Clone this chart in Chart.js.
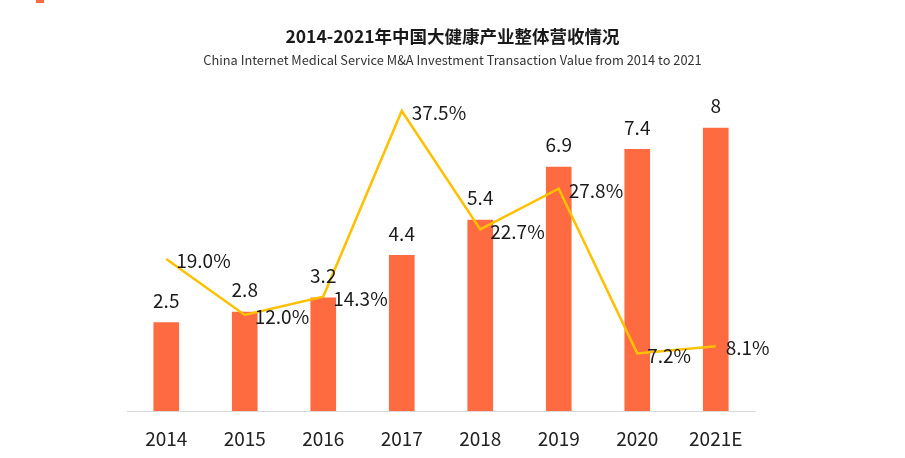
<!DOCTYPE html>
<html>
<head>
<meta charset="utf-8">
<script src="https://cdn.jsdelivr.net/npm/chart.js@4"></script>
<style>
  html, body { margin: 0; padding: 0; background: #fff; }
  #wrap { position: relative; width: 905px; height: 458px; }
  #mark { position: absolute; left: 36px; top: 0; width: 8px; height: 3px; background: #FF6B40; }
  canvas { display: block; }
</style>
</head>
<body>
<div id="wrap">
  <canvas id="c" width="905" height="458"></canvas>
  <div id="mark"></div>
</div>
<script>
const categories = ['2014', '2015', '2016', '2017', '2018', '2019', '2020', '2021E'];
const revenue = [2.5, 2.8, 3.2, 4.4, 5.4, 6.9, 7.4, 8];
const growth = [19.0, 12.0, 14.3, 37.5, 22.7, 27.8, 7.2, 8.1];
const titleText = '2014-2021年中国大健康产业整体营收情况';
const subtitleText = 'China Internet Medical Service M&A Investment Transaction Value from 2014 to 2021';

const FONT = "'Noto Sans CJK SC', 'Noto Sans', sans-serif";

const titlePlugin = {
  id: 'titles',
  afterDraw(chart) {
    const ctx = chart.ctx;
    const cx = chart.width / 2;
    ctx.save();
    ctx.textAlign = 'center';
    ctx.textBaseline = 'middle';
    ctx.fillStyle = '#1a1a1a';
    ctx.font = 'bold 17.5px ' + FONT;
    ctx.fillText(titleText, cx, 36);
    ctx.fillStyle = '#333';
    ctx.font = '12.8px ' + FONT;
    ctx.fillText(subtitleText, cx, 60);
    ctx.restore();
  }
};

const labelPlugin = {
  id: 'valueLabels',
  afterDatasetsDraw(chart) {
    const ctx = chart.ctx;
    ctx.save();
    ctx.font = '19px ' + FONT;
    ctx.fillStyle = '#1a1a1a';
    ctx.textBaseline = 'middle';
    const barMeta = chart.getDatasetMeta(1);
    ctx.textAlign = 'center';
    barMeta.data.forEach((el, i) => {
      ctx.fillText(String(revenue[i]), el.x, el.y - 22);
    });
    const lineMeta = chart.getDatasetMeta(0);
    ctx.textAlign = 'left';
    lineMeta.data.forEach((el, i) => {
      ctx.fillText(growth[i].toFixed(1) + '%', el.x + 10, el.y + 2);
    });
    ctx.restore();
  }
};

new Chart(document.getElementById('c'), {
  type: 'bar',
  data: {
    labels: categories,
    datasets: [
      {
        type: 'line',
        data: growth,
        yAxisID: 'y1',
        borderColor: '#FFC000',
        borderWidth: 2.5,
        pointRadius: 0,
        tension: 0,
        fill: false,
        order: 0
      },
      {
        type: 'bar',
        data: revenue,
        yAxisID: 'y',
        backgroundColor: '#FF6B40',
        barThickness: 25,
        order: 1
      }
    ]
  },
  options: {
    responsive: false,
    animation: false,
    layout: { padding: { left: 127, right: 150, top: 91, bottom: 0 } },
    plugins: {
      legend: { display: false },
      tooltip: { enabled: false },
      title: { display: false },
      subtitle: { display: false }
    },
    scales: {
      x: {
        grid: { display: false, drawTicks: false },
        border: { display: true, color: '#d9d9d9', width: 1 },
        ticks: { color: '#222', font: { family: FONT, size: 19 }, padding: 16 },
        afterFit(scale) { scale.height = 47; }
      },
      y: { display: false, min: 0, max: 9.05 },
      y1: { display: false, min: 0, max: 40 }
    }
  },
  plugins: [labelPlugin, titlePlugin]
});
</script>
</body>
</html>
